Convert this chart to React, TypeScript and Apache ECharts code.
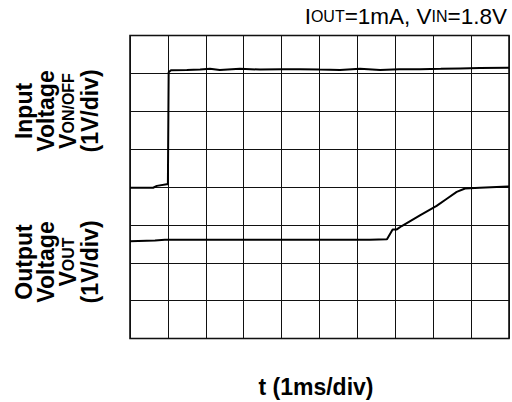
import React, { useEffect, useRef } from "react";
import * as echarts from "echarts";

// time in divisions (1 ms/div), levels in divisions (1 V/div), 0 = bottom of screen
const inputTime = [0, 0.61, 0.71, 0.97, 1.0, 1.02, 1.08, 1.5, 1.85, 2.11, 2.37, 2.9, 3.43, 4.0, 4.49, 5.0, 5.54, 6.07, 6.6, 7.1, 7.65, 8.2, 8.71, 9.23, 9.97, 10];
const inputLevel = [3.98, 3.98, 4.03, 4.07, 4.07, 7.03, 7.08, 7.09, 7.1, 7.12, 7.09, 7.12, 7.1, 7.11, 7.11, 7.1, 7.09, 7.12, 7.09, 7.11, 7.11, 7.12, 7.13, 7.14, 7.15, 7.15];
const outputTime = [0, 0.66, 0.92, 2.0, 3.17, 4.5, 5.5, 6.33, 6.78, 6.93, 7.04, 7.17, 7.65, 8.09, 8.36, 8.62, 8.84, 9.23, 9.97, 10];
const outputLevel = [2.57, 2.59, 2.61, 2.61, 2.61, 2.61, 2.61, 2.61, 2.62, 2.88, 2.88, 2.97, 3.25, 3.5, 3.69, 3.87, 3.96, 3.98, 4.01, 4.01];

const titleText = "{b|I}{s|OUT}{b|=1mA, V}{s|IN}{b|=1.8V}";
const inputLabel = "{b|Input}\n{b|Voltage}\n{b|V}{s|ON/OFF}\n{b|(1V/div)}";
const outputLabel = "{b|Output}\n{b|Voltage}\n{b|V}{s|OUT}\n{b|(1V/div)}";
const xLabel = "t (1ms/div)";

export default function App() {
  const ref = useRef<HTMLDivElement>(null);
  useEffect(() => {
    const chart = echarts.init(ref.current!, null, { renderer: "svg" });
    const font = "Liberation Sans, Arial, Helvetica, sans-serif";
    const richRot = {
      b: { fontSize: 23, fontWeight: "bold", fontFamily: font, lineHeight: 22, fill: "#000" },
      s: { fontSize: 16, fontWeight: "bold", fontFamily: font, lineHeight: 22, fill: "#000" },
    };
    chart.setOption({
      animation: false,
      backgroundColor: "#fff",
      grid: { left: 130, top: 35.5, width: 379, height: 303, show: true, borderColor: "#000", borderWidth: 1.5, containLabel: false },
      xAxis: {
        type: "value", min: 0, max: 10, interval: 1,
        axisLine: { show: false }, axisTick: { show: false }, axisLabel: { show: false },
        splitLine: { show: true, lineStyle: { color: "#111", width: 1 } },
      },
      yAxis: {
        type: "value", min: 0, max: 8, interval: 1,
        axisLine: { show: false }, axisTick: { show: false }, axisLabel: { show: false },
        splitLine: { show: true, lineStyle: { color: "#111", width: 1 } },
      },
      series: [
        {
          type: "line", showSymbol: false, symbol: "none",
          data: inputTime.map((t, i) => [t, inputLevel[i]]),
          lineStyle: { color: "#000", width: 2 },
        },
        {
          type: "line", showSymbol: false, symbol: "none",
          data: outputTime.map((t, i) => [t, outputLevel[i]]),
          lineStyle: { color: "#000", width: 2 },
        },
      ],
      graphic: [
        {
          type: "text", x: 507, y: 28, silent: true,
          style: {
            text: titleText, align: "right", verticalAlign: "bottom",
            rich: {
              b: { fontSize: 22.5, fontFamily: font, fill: "#000" },
              s: { fontSize: 16, fontFamily: font, fill: "#000" },
            },
          },
        },
        {
          type: "text", x: 57, y: 111, rotation: Math.PI / 2, silent: true,
          style: { text: inputLabel, align: "center", verticalAlign: "middle", rich: richRot },
        },
        {
          type: "text", x: 57, y: 262, rotation: Math.PI / 2, silent: true,
          style: { text: outputLabel, align: "center", verticalAlign: "middle", rich: richRot },
        },
        {
          type: "text", x: 316, y: 387, silent: true,
          style: { text: xLabel, align: "center", verticalAlign: "middle", fontSize: 23, fontWeight: "bold", fontFamily: font, fill: "#000" },
        },
      ],
    });
    return () => chart.dispose();
  }, []);
  return <div ref={ref} style={{ width: 512, height: 402, position: "absolute", left: 0, top: 0 }} />;
}
